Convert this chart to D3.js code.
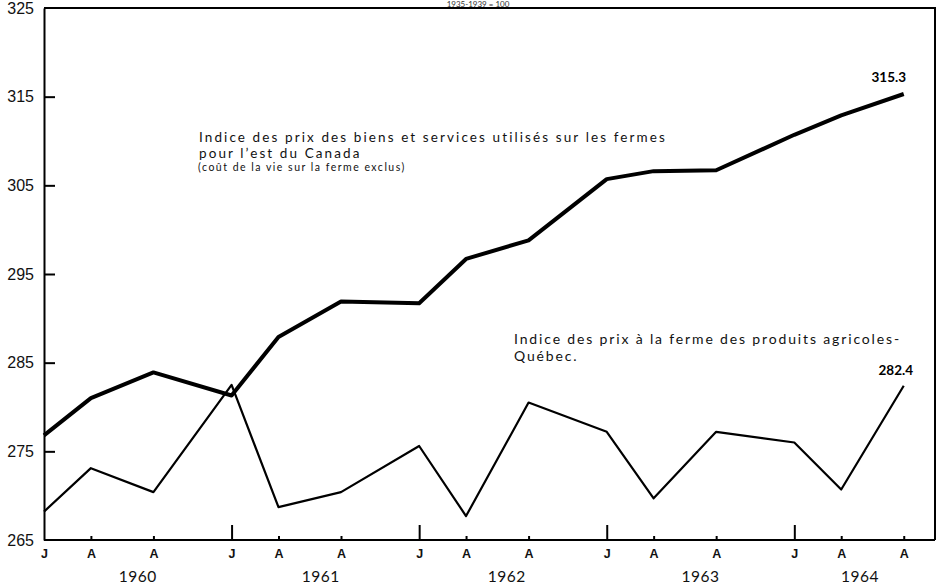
<!DOCTYPE html>
<html>
<head>
<meta charset="utf-8">
<script src="https://cdn.jsdelivr.net/npm/d3@7"></script>
<style>
	body { margin: 0; background: #fff; }
	svg { display: block; font-family: Lato, "DejaVu Sans", sans-serif; }
</style>
</head>
<body>
<div id="chart"></div>
<script>
// months since janvier 1960
var months = [0, 3, 7, 12, 15, 19, 24, 27, 31, 36, 39, 43, 48, 51, 55];
var monthLabels = ["J", "A", "A", "J", "A", "A", "J", "A", "A", "J", "A", "A", "J", "A", "A"];
var years = ["1960", "1961", "1962", "1963", "1964"];
var yearMonth = [6, 17.7, 29.6, 42, 52.2];

// Indice des prix des biens et services (est du Canada)
var biens = [276.8, 281.0, 283.9, 281.3, 287.9, 291.9, 291.7, 296.7, 298.8, 305.7, 306.6, 306.7, 310.7, 312.9, 315.3];
// Indice des prix a la ferme - Quebec
var quebec = [268.2, 273.1, 270.4, 282.5, 268.7, 270.4, 275.6, 267.7, 280.5, 277.2, 269.7, 277.2, 276.0, 270.7, 282.4];

var yTicks = [265, 275, 285, 295, 305, 315, 325];

var width = 937, height = 585;

var svg = d3.select("#chart").append("svg")
	.attr("width", width)
	.attr("height", height);

var x = d3.scaleLinear().domain([0, 57]).range([44, 935]);
var y = d3.scaleLinear().domain([265, 325]).range([540, 8]);

// y axis
var yAxis = svg.append("g")
	.attr("transform", "translate(" + x(0) + ",0)")
	.call(d3.axisLeft(y).tickValues(yTicks).tickSizeInner(-11).tickSizeOuter(0).tickPadding(10).tickFormat(d3.format("d")));
yAxis.select(".domain").attr("stroke-width", 2);
yAxis.selectAll(".tick line").attr("stroke-width", 2)
	.attr("display", function(d) { return (d == 265 || d == 325) ? "none" : null; });
yAxis.selectAll(".tick text").attr("font-size", 16).attr("fill", "#111");

// x axis
var xAxis = svg.append("g")
	.attr("transform", "translate(0," + y(265) + ")")
	.call(d3.axisBottom(x).tickValues(months).tickSizeOuter(0).tickPadding(10)
		.tickFormat(function(d, i) { return monthLabels[i]; }));
xAxis.select(".domain").attr("stroke-width", 2)
	.attr("d", "M" + x(0) + ",0H" + x(57));
xAxis.selectAll(".tick line")
	.attr("stroke-width", 2)
	.attr("y2", function(d, i) { return monthLabels[i] == "J" ? -15 : -4; })
	.attr("display", function(d, i) { return i == 0 ? "none" : null; });
xAxis.selectAll(".tick text").attr("font-size", 12.5).attr("font-weight", "bold").attr("fill", "#111")
	.attr("y", 9);

// years
svg.selectAll("text.year")
	.data(years)
	.enter()
	.append("text")
	.attr("class", "year")
	.attr("x", function(d, i) { return x(yearMonth[i]); })
	.attr("y", 582)
	.attr("text-anchor", "middle")
	.attr("font-size", 15.5)
	.attr("letter-spacing", 0.5)
	.attr("fill", "#111")
	.text(function(d) { return d; });

// frame top and right
svg.append("path")
	.attr("d", "M" + x(0) + "," + y(325) + "H" + x(57) + "V" + y(265))
	.attr("fill", "none")
	.attr("stroke", "#000")
	.attr("stroke-width", 2);

var line = d3.line()
	.x(function(d, i) { return x(months[i]); })
	.y(function(d) { return y(d); });

svg.append("path")
	.datum(quebec)
	.attr("d", line)
	.attr("fill", "none")
	.attr("stroke", "#000")
	.attr("stroke-width", 2.2)
	.attr("stroke-linejoin", "round");

svg.append("path")
	.datum(biens)
	.attr("d", line)
	.attr("fill", "none")
	.attr("stroke", "#000")
	.attr("stroke-width", 4)
	.attr("stroke-linejoin", "round");

// end values
var last = months.length - 1;
svg.append("text")
	.attr("x", x(months[last]) - 15)
	.attr("y", y(biens[last]) - 12)
	.attr("text-anchor", "middle")
	.attr("font-size", 13.5).attr("font-weight", "bold")
	.text(d3.format(".1f")(biens[last]));
svg.append("text")
	.attr("x", x(months[last]) - 8)
	.attr("y", y(quebec[last]) - 11)
	.attr("text-anchor", "middle")
	.attr("font-size", 13.5).attr("font-weight", "bold")
	.text(d3.format(".1f")(quebec[last]));

// annotations
var note1 = svg.append("g").attr("fill", "#111").attr("letter-spacing", 2.1);
note1.append("text").attr("x", 199).attr("y", 142).attr("font-size", 13.5)
	.text("Indice des prix des biens et services utilisés sur les fermes");
note1.append("text").attr("x", 199).attr("y", 158).attr("font-size", 13.5)
	.text("pour l’est du Canada");
note1.append("text").attr("x", 198).attr("y", 171).attr("font-size", 10.5).attr("letter-spacing", 1.5)
	.text("(coût de la vie sur la ferme exclus)");

var note2 = svg.append("g").attr("fill", "#111").attr("letter-spacing", 1.85);
note2.append("text").attr("x", 514).attr("y", 344).attr("font-size", 14)
	.text("Indice des prix à la ferme des produits agricoles-");
note2.append("text").attr("x", 514).attr("y", 361).attr("font-size", 14)
	.text("Québec.");

// title, mostly lost at the top of the page
svg.append("text")
	.attr("x", 478).attr("y", 6.5)
	.attr("text-anchor", "middle")
	.attr("font-size", 8).attr("fill", "#333")
	.text("1935-1939 = 100");
</script>
</body>
</html>
